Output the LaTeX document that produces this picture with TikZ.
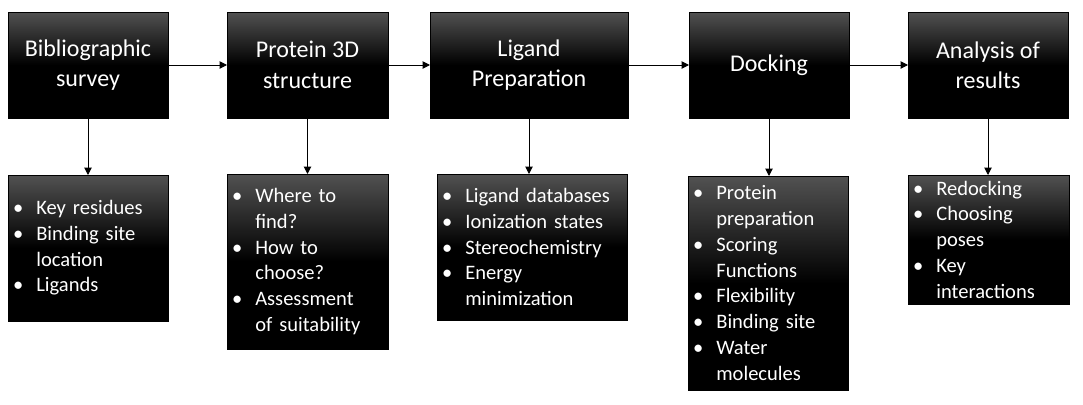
\documentclass[tikz,border=0pt]{standalone}
\usepackage{fontspec}
\setmainfont{Carlito}
\usetikzlibrary{arrows.meta}
\newcommand{\bl}{\makebox[17.5pt][l]{\textbullet}}
\newcommand{\ind}{\hspace*{17.5pt}}
\begin{document}
\begin{tikzpicture}[x=0.75pt,y=-0.75pt,
  box/.style={draw=black, line width=0.6pt, top color=black!68, bottom color=black, middle color=black,
    text=white, inner sep=0pt, outer sep=0pt},
  stage/.style={box, minimum height=79.5pt, align=center, font=\fontsize{18pt}{22.8pt}\selectfont},
  detail/.style={box, inner xsep=3.75pt, align=left, font=\fontsize{15.4pt}{19.3pt}\selectfont},
  link/.style={line width=0.75pt, -{Triangle[length=5.5pt,width=5.5pt]}}]
\useasboundingbox (0,0) rectangle (1083,404);
\node[stage, minimum width=120pt] (b1) at (88,65) {Bibliographic\\survey};
\node[stage, minimum width=120.75pt] (b2) at (307.5,65) {Protein 3D\\structure};
\node[stage, minimum width=148.5pt] (b3) at (529,65) {Ligand\\Preparation};
\node[stage, minimum width=120pt] (b4) at (769,65) {Docking};
\node[stage, minimum width=120pt] (b5) at (988,65) {Analysis of\\results};
\node[detail, text width=112.5pt, minimum height=109.5pt] (s1) at (88,248)
  {\bl Key residues\\ \bl Binding site\\ \ind location\\ \bl Ligands};
\node[detail, text width=113.25pt, minimum height=131.25pt] (s2) at (307.5,261.5)
  {\bl Where to\\ \ind find?\\ \bl How to\\ \ind choose?\\ \bl Assessment\\ \ind of suitability};
\node[detail, text width=135pt, minimum height=109.5pt] (s3) at (532,247)
  {\bl Ligand databases\\ \bl Ionization states\\ \bl Stereochemistry\\ \bl Energy\\ \ind minimization};
\node[detail, text width=112.5pt, minimum height=160.5pt] (s4) at (768,283)
  {\bl Protein\\ \ind preparation\\ \bl Scoring\\ \ind Functions\\ \bl Flexibility\\ \bl Binding site\\ \bl Water\\ \ind molecules};
\node[detail, text width=113.25pt, minimum height=96.75pt] (s5) at (988.5,239.5)
  {\bl Redocking\\ \bl Choosing\\ \ind poses\\ \bl Key\\ \ind interactions};
\draw[link] (b1.east) -- (b2.west);
\draw[link] (b2.east) -- (b3.west);
\draw[link] (b3.east) -- (b4.west);
\draw[link] (b4.east) -- (b5.west);
\draw[link] (b1.south) -- (b1.south |- s1.north);
\draw[link] (b2.south) -- (b2.south |- s2.north);
\draw[link] (b3.south) -- (b3.south |- s3.north);
\draw[link] (b4.south) -- (b4.south |- s4.north);
\draw[link] (b5.south) -- (b5.south |- s5.north);
\end{tikzpicture}
\end{document}
